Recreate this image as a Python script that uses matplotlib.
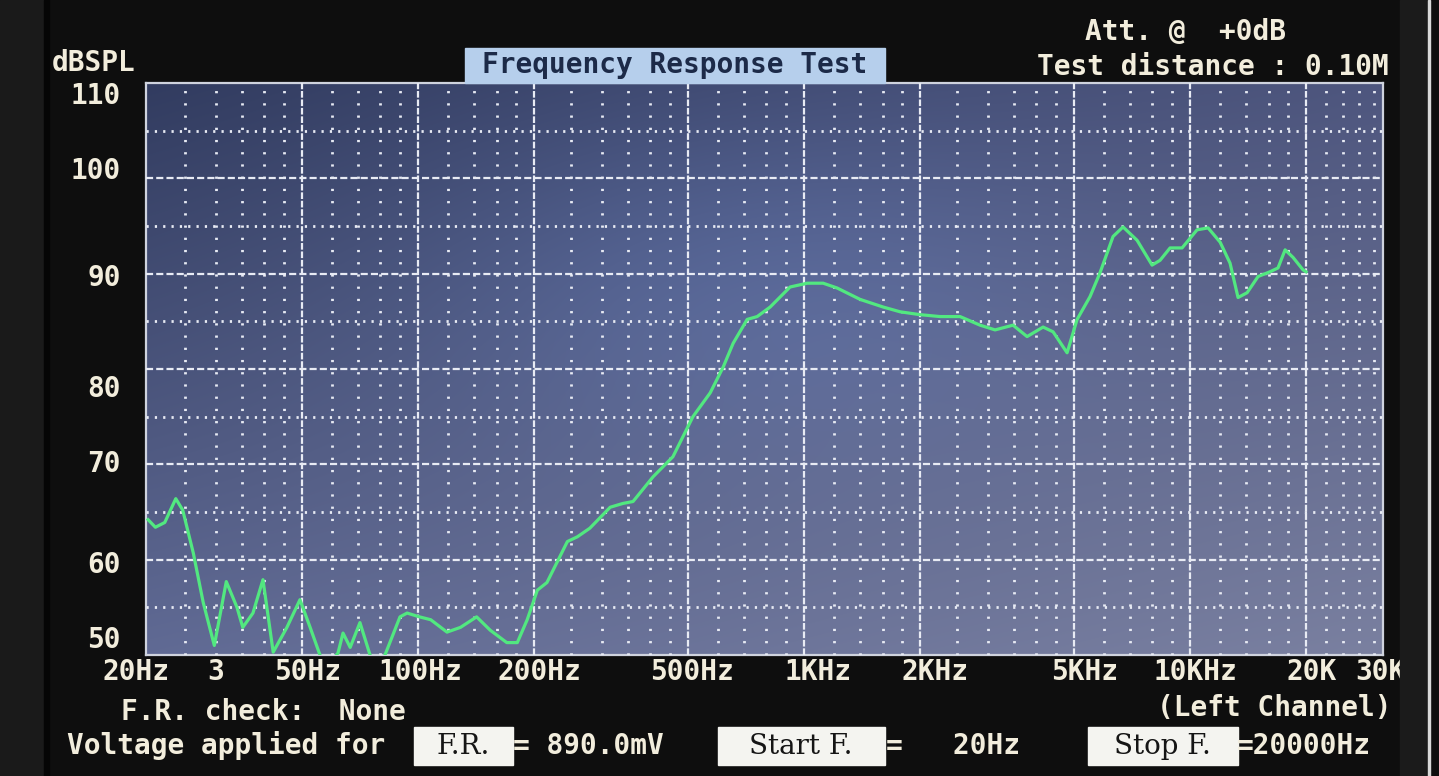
import matplotlib.pyplot as plt
import numpy as np
from matplotlib.patches import Rectangle
from matplotlib.transforms import ScaledTranslation, blended_transform_factory

W, H = 1439, 776

# response (Hz, dBSPL)
freq = [20, 20.9, 22.1, 23.6, 24.6, 26.2, 27.8, 29.7, 31.9, 34.0, 35.2, 37.4, 39.7,
        42.2, 45.8, 49.5, 52.6, 57.5, 62.1, 64.0, 66.8, 70.8, 75.2, 78.4, 82.2,
        89.9, 93.8, 101, 108, 119, 129, 142, 154, 170, 181, 192, 204, 216, 244,
        259, 279, 315, 340, 361, 407, 458, 516, 572, 618, 656, 713, 757, 818,
        921, 1020, 1122, 1219, 1399, 1605, 1776, 2000, 2253, 2539, 2860, 3129,
        3483, 3787, 4167, 4423, 4808, 5104, 5514, 5852, 6325, 6713, 7300, 7982,
        8372, 8887, 9548, 10440, 11150, 11980, 12710, 13330, 14070, 15020,
        16130, 16920, 17650, 18510, 19640, 20000]
spl = [64.2, 63.4, 63.9, 66.4, 65.2, 60.7, 55.5, 51.0, 57.7, 55.0, 52.9, 54.4, 57.9,
       50.3, 52.9, 55.8, 52.9, 48.5, 50.2, 52.3, 50.8, 53.4, 50.0, 48.5, 50.0,
       54.0, 54.4, 54.0, 53.7, 52.4, 52.9, 54.0, 52.6, 51.3, 51.3, 53.7, 56.8,
       57.6, 61.9, 62.4, 63.3, 65.5, 65.9, 66.1, 68.7, 70.8, 75.0, 77.5, 80.2,
       82.7, 85.2, 85.5, 86.5, 88.6, 89.0, 89.0, 88.5, 87.3, 86.5, 86.0, 85.7,
       85.5, 85.5, 84.6, 84.1, 84.6, 83.4, 84.4, 83.9, 81.7, 85.2, 87.6, 90.1,
       93.9, 94.9, 93.5, 90.9, 91.4, 92.7, 92.7, 94.6, 94.8, 93.3, 91.1, 87.5,
       88.0, 89.7, 90.2, 90.6, 92.5, 91.7, 90.4, 90.2]

x_ticks = [20, 30, 50, 100, 200, 500, 1000, 2000, 5000, 10000, 20000, 30000]
x_labels = ['20Hz', '3', '50Hz', '100Hz', '200Hz', '500Hz', '1KHz', '2KHz',
            '5KHz', '10KHz', '20K', '30K']
y_ticks = [110, 100, 90, 80, 70, 60, 50]

x_major = [50, 100, 200, 500, 1000, 2000, 5000, 10000, 20000]
x_minor = [25, 30, 35, 40, 45, 60, 70, 80, 90, 120, 140, 160, 180,
           250, 300, 350, 400, 450, 600, 700, 800, 900, 1200, 1400, 1600, 1800,
           2500, 3000, 3500, 4000, 4500, 6000, 7000, 8000, 9000,
           12000, 14000, 16000, 18000, 22500, 25000, 27500, 30000]
y_major = [60, 70, 80, 90, 100]
y_minor = [55, 65, 75, 85, 95, 105]

# screen text sits on a character grid, not exactly on the ticks (pixel nudges)
x_label_dx = [-12, 0, 6, 3, 5, 4, 14, 15, 11, 6, 6, 6]
y_label_dy = [13, -7, 4, 20, 0, 5, -15]

FG = '#f2eddc'
MONO = 'DejaVu Sans Mono'


def fx(x):
    return x / W


def fy(y):
    return 1 - y / H


def screen_text(x, y, s, ha='left', **kw):
    kw.setdefault('color', FG)
    kw.setdefault('fontsize', 20)
    kw.setdefault('family', MONO)
    kw.setdefault('fontweight', 'bold')
    fig.text(fx(x), fy(y), s, ha=ha, va='center', **kw)


def screen_box(x0, x1, y0, y1, color):
    fig.patches.append(Rectangle((fx(x0), fy(y1)), fx(x1) - fx(x0), fy(y0) - fy(y1),
                                 transform=fig.transFigure, color=color, zorder=1))


fig = plt.figure(figsize=(W / 100, H / 100), dpi=100, facecolor='#0e0e0e')

# photo border bits
screen_box(0, 44, 0, H, '#1a1a1a')
screen_box(44, 49, 0, H, '#050505')
screen_box(1400, 1427, 0, H, '#1b1b1b')
screen_box(1428, 1430, 0, H, '#d8d8d8')

ax = fig.add_axes([fx(146), fy(655), fx(1383) - fx(146), fy(83) - fy(655)])

# screen background: dark navy at top-left, lighter grey-blue towards bottom-right
nx, ny = 200, 100
gx, gy = np.meshgrid(np.linspace(0, 1, nx), np.linspace(1, 0, ny))
tl = np.array([50, 60, 96])
tr = np.array([78, 86, 126])
bl = np.array([96, 106, 148])
br = np.array([122, 128, 160])
grad = ((1 - gx) * gy)[..., None] * tl + (gx * gy)[..., None] * tr \
    + ((1 - gx) * (1 - gy))[..., None] * bl + (gx * (1 - gy))[..., None] * br
spot = np.exp(-((gx - 0.5) ** 2 / 0.08 + (gy - 0.65) ** 2 / 0.1))
grad = grad + spot[..., None] * np.array([10, 16, 26])
ax.imshow(np.clip(grad / 255, 0, 1), extent=[0, 1, 0, 1], transform=ax.transAxes,
          aspect='auto', zorder=0, interpolation='bilinear')

ax.set_xscale('log')
ax.set_xticks(x_major)
ax.set_xticks(x_minor, minor=True)
ax.set_yticks(y_major)
ax.set_yticks(y_minor, minor=True)
ax.tick_params(which='both', length=0, labelbottom=False, labelleft=False)

gc = '#e8ebf4'
ax.grid(which='major', axis='x', color=gc, lw=1.6, ls=(0, (3.0, 0.8)), zorder=1)
ax.grid(which='minor', axis='x', color=gc, lw=2.0, ls=(0, (0.8, 3.6)), zorder=1)
ax.grid(which='major', axis='y', color=gc, lw=1.6, ls=(0, (3.2, 1.4)), zorder=1)
ax.grid(which='minor', axis='y', color=gc, lw=2.0, ls=(0, (0.8, 2.2)), zorder=1)
ax.set_axisbelow(False)

ax.plot(freq, spl, color='#52e880', lw=2.3, zorder=3, solid_joinstyle='round')

ax.set_xlim(19.76, 31650)
ax.set_ylim(50, 110)
for sp in ax.spines.values():
    sp.set_color('#cfd3de')
    sp.set_linewidth(1.6)

# axis labels in screen font
xt = blended_transform_factory(ax.transData, ax.transAxes)
for f, lab, dx in zip(x_ticks, x_labels, x_label_dx):
    ax.text(f, 0, lab, ha='center', va='center', color=FG, fontsize=20,
            family=MONO, fontweight='bold', clip_on=False,
            transform=xt + ScaledTranslation(dx / 100, -17 / 100, fig.dpi_scale_trans))

yt = blended_transform_factory(ax.transAxes, ax.transData)
for v, dy in zip(y_ticks, y_label_dy):
    ax.text(0, v, str(v), ha='right', va='center', color=FG, fontsize=20,
            family=MONO, fontweight='bold', clip_on=False,
            transform=yt + ScaledTranslation(-25 / 100, -dy / 100, fig.dpi_scale_trans))

# header
screen_text(52, 63, 'dBSPL')
screen_box(465, 885, 48, 83, '#b6cfec')
screen_text(482, 65, 'Frequency Response Test', color='#1c2a48')
screen_text(1085, 32, 'Att. @  +0dB')
screen_text(1037, 67, 'Test distance : 0.10M')

# footer
screen_text(121, 712, 'F.R. check:  None')
screen_text(1157, 708, '(Left Channel)')
screen_text(67, 746, 'Voltage applied for')
screen_box(414, 513, 727, 765, '#f4f4f0')
screen_text(463, 746, 'F.R.', ha='center', color='#151515', family='DejaVu Serif',
            fontweight='normal', fontsize=20)
screen_text(513, 746, '= 890.0mV')
screen_box(718, 885, 727, 765, '#f4f4f0')
screen_text(801, 746, 'Start F.', ha='center', color='#151515', family='DejaVu Serif',
            fontweight='normal', fontsize=20)
screen_text(886, 746, '=   20Hz')
screen_box(1088, 1238, 727, 765, '#f4f4f0')
screen_text(1162, 746, 'Stop F.', ha='center', color='#151515', family='DejaVu Serif',
            fontweight='normal', fontsize=20)
screen_text(1237, 746, '=20000Hz')

fig.savefig('out.png', dpi=100, facecolor=fig.get_facecolor())
